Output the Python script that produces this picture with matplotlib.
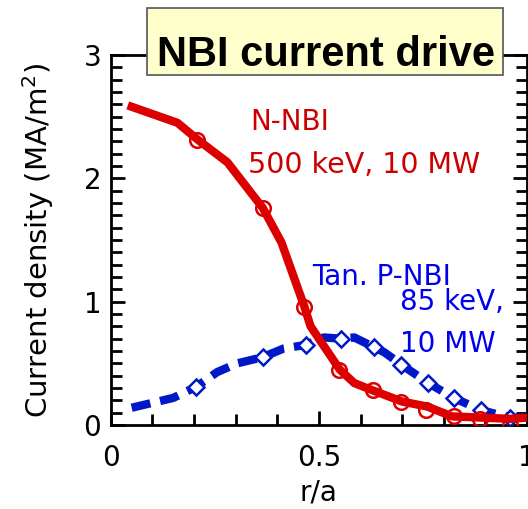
import matplotlib
matplotlib.use("Agg")
import matplotlib.pyplot as plt
from matplotlib.patches import Rectangle
from matplotlib.ticker import MultipleLocator

# N-NBI (500 keV, 10 MW) current density profile
nnbi_r = [0.05, 0.16, 0.21, 0.28, 0.365, 0.41, 0.465, 0.48, 0.55, 0.585, 0.63, 0.70, 0.76, 0.82, 0.89, 0.96, 1.0]
nnbi_j = [2.58, 2.45, 2.31, 2.13, 1.76, 1.48, 0.96, 0.80, 0.45, 0.34, 0.28, 0.19, 0.15, 0.07, 0.06, 0.05, 0.06]
nnbi_pts_r = [0.208, 0.365, 0.464, 0.548, 0.63, 0.698, 0.758, 0.824, 0.887, 0.96]
nnbi_pts_j = [2.31, 1.76, 0.96, 0.45, 0.28, 0.19, 0.12, 0.07, 0.05, 0.0]

# Tangential P-NBI (85 keV, 10 MW) current density profile
pnbi_r = [0.05, 0.15, 0.205, 0.256, 0.304, 0.365, 0.415, 0.469, 0.512, 0.553, 0.585, 0.633, 0.657, 0.698, 0.763, 0.824, 0.89, 0.96, 1.0]
pnbi_j = [0.14, 0.22, 0.31, 0.43, 0.50, 0.55, 0.62, 0.65, 0.71, 0.70, 0.71, 0.63, 0.59, 0.49, 0.34, 0.22, 0.12, 0.06, 0.06]
pnbi_pts_r = [0.205, 0.365, 0.469, 0.553, 0.633, 0.698, 0.763, 0.824, 0.89, 0.96]
pnbi_pts_j = [0.31, 0.55, 0.65, 0.70, 0.63, 0.49, 0.34, 0.22, 0.12, 0.06]

x_ticks = [0, 0.5, 1]
x_ticklabels = ["0", "0.5", "1"]
y_ticks = [0, 1, 2, 3]
y_ticklabels = ["0", "1", "2", "3"]

RED = "#dd0000"
RED_TXT = "#cc0000"
BLUE = "#0018c8"
BLUE_TXT = "#0000ee"

plt.rcParams["font.family"] = ["DejaVu Sans"]

fig = plt.figure(figsize=(5.28, 5.09), dpi=100)
ax = fig.add_axes([0.210, 0.165, 0.788, 0.727])

ax.plot(pnbi_r, pnbi_j, color=BLUE, lw=6, dashes=(2.3, 1.2), solid_capstyle="butt", zorder=2)
ax.plot(pnbi_pts_r, pnbi_pts_j, linestyle="none", marker="D", ms=8.5, mew=1.8,
        mfc="white", mec=BLUE, zorder=3)

ax.plot(nnbi_r, nnbi_j, color=RED, lw=6, solid_joinstyle="round", zorder=4)
ax.plot(nnbi_pts_r, nnbi_pts_j, linestyle="none", marker="o", ms=10.5, mew=1.8,
        mfc="none", mec=RED, zorder=5)

ax.set_xlim(0, 1)
ax.set_ylim(0, 3)
ax.set_xticks(x_ticks)
ax.set_xticklabels(x_ticklabels)
ax.set_yticks(y_ticks)
ax.set_yticklabels(y_ticklabels)
ax.xaxis.set_minor_locator(MultipleLocator(0.1))
ax.yaxis.set_minor_locator(MultipleLocator(0.1))

for s in ax.spines.values():
    s.set_linewidth(2)

ax.tick_params(axis="both", which="both", direction="in", width=2, labelsize=20)
ax.tick_params(axis="y", which="both", right=True, pad=7)
ax.tick_params(axis="y", which="major", length=10)
ax.tick_params(axis="y", which="minor", length=8)
ax.tick_params(axis="x", which="both", top=False, pad=14)
ax.tick_params(axis="x", which="major", length=10)
ax.tick_params(axis="x", which="minor", length=8)

ax.set_xlabel("r/a", fontsize=20, labelpad=4)
ax.set_ylabel("Current density (MA/m$^2$)", fontsize=21, labelpad=20)

ax.text(0.334, 2.39, "N-NBI", color=RED_TXT, fontsize=20)
ax.text(0.329, 2.04, "500 keV, 10 MW", color=RED_TXT, fontsize=20.5)
ax.text(0.483, 1.135, "Tan. P-NBI", color=BLUE_TXT, fontsize=20)
ax.text(0.695, 0.93, "85 keV,", color=BLUE_TXT, fontsize=20)
ax.text(0.695, 0.59, "10 MW", color=BLUE_TXT, fontsize=20)

# Title box
fig.patches.append(Rectangle((0.2784, 0.8527), 0.674, 0.1316, transform=fig.transFigure,
                             facecolor="#ffffcc", edgecolor="#555555", lw=1.2, zorder=10))
fig.text(0.617, 0.8703, "NBI current drive", ha="center", va="baseline",
         fontsize=30, fontweight="bold",
         family=["Liberation Sans", "DejaVu Sans"], zorder=11)

fig.savefig("out.png", dpi=100)
